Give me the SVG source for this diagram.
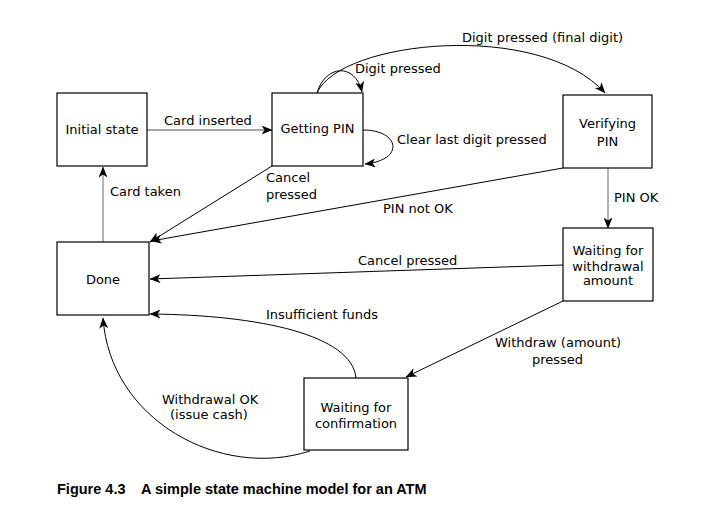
<svg xmlns="http://www.w3.org/2000/svg" width="722" height="508" viewBox="0 0 722 508">
<defs>
<marker id="ah" viewBox="0 0 11 9" refX="10.5" refY="4.5" markerWidth="11" markerHeight="9" markerUnits="userSpaceOnUse" orient="auto">
<path d="M0,0 L11,4.5 L0,9 L3,4.5 z" fill="#000"/>
</marker>
<style>
.box{fill:#fff;stroke:#000;stroke-width:1.2}
.t{font-family:"DejaVu Sans",sans-serif;font-size:13px;fill:#000}
.m{text-anchor:middle}
.c{fill:none;stroke:#000;stroke-width:1;marker-end:url(#ah)}
.g{stroke:#8a8a8a;stroke-width:1.3}
.cap{font-family:"Liberation Sans",Arial,sans-serif;font-size:14.5px;font-weight:bold;fill:#000}
</style>
</defs>
<rect width="722" height="508" fill="#fff"/>
<g id="connectors">
<path class="c g" d="M147,130 L272,130"/>
<path class="c g" d="M103,242 L103,167"/>
<path class="c" d="M317,93 C 325,65 355,62 362,92"/>
<path class="c" d="M317,93 C 340,40 540,20 605,93"/>
<path class="c" d="M363,130 C 400,130 405,160 365,164"/>
<path class="c" d="M272,166 L150,242"/>
<path class="c" d="M563,168 L151,241"/>
<path class="c g" d="M608,168 L608,228"/>
<path class="c" d="M563,265 L150,279"/>
<path class="c" d="M563,301 L406,377"/>
<path class="c" d="M356,378 C 352,335 260,315 150,314"/>
<path class="c" d="M310,451 C 220,480 110,420 103,318"/>
</g>
<g id="labels">
<text class="t" x="164" y="125">Card inserted</text>
<text class="t" x="110" y="196">Card taken</text>
<text class="t" x="355" y="73">Digit pressed</text>
<text class="t" x="462" y="42">Digit pressed (final digit)</text>
<text class="t" x="397" y="144">Clear last digit pressed</text>
<text class="t" x="266" y="182">Cancel</text>
<text class="t" x="266" y="199">pressed</text>
<text class="t" x="383" y="213">PIN not OK</text>
<text class="t" x="614" y="202">PIN OK</text>
<text class="t" x="358" y="265">Cancel pressed</text>
<text class="t" x="266" y="319">Insufficient funds</text>
<text class="t" x="495" y="347">Withdraw (amount)</text>
<text class="t" x="532" y="364">pressed</text>
<text class="t" x="162" y="404">Withdrawal OK</text>
<text class="t" x="170" y="419">(issue cash)</text>
</g>
<g id="initial">
<rect class="box" x="57" y="93" width="90" height="73"/>
<text class="t m" x="102" y="134">Initial state</text>
</g>
<g id="getting-pin">
<rect class="box" x="272" y="93" width="91" height="73"/>
<text class="t m" x="317.5" y="133">Getting PIN</text>
</g>
<g id="verifying-pin">
<rect class="box" x="563" y="95" width="89" height="73"/>
<text class="t m" x="607.5" y="128">Verifying</text>
<text class="t m" x="607.5" y="146">PIN</text>
</g>
<g id="done">
<rect class="box" x="57" y="242" width="92" height="73"/>
<text class="t m" x="103" y="284">Done</text>
</g>
<g id="waiting-withdrawal">
<rect class="box" x="563" y="228" width="90" height="73"/>
<text class="t m" x="608" y="255">Waiting for</text>
<text class="t m" x="608" y="271">withdrawal</text>
<text class="t m" x="608" y="285">amount</text>
</g>
<g id="waiting-confirmation">
<rect class="box" x="304" y="378" width="104" height="72"/>
<text class="t m" x="356" y="412">Waiting for</text>
<text class="t m" x="356" y="428">confirmation</text>
</g>
<text class="cap" x="57" y="494" xml:space="preserve">Figure 4.3    A simple state machine model for an ATM</text>
</svg>
